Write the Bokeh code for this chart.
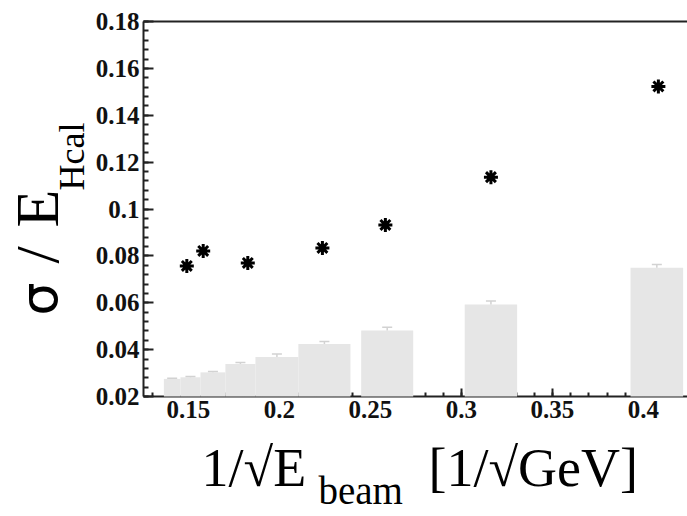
import numpy as np
from math import pi
from bokeh.plotting import figure
from bokeh.layouts import row, column
from bokeh.models import (Range1d, FixedTicker, LinearAxis, Label, Whisker,
                          ColumnDataSource, TeeHead)
from bokeh.embed import file_html
from bokeh.resources import INLINE

# ---- data ----
# measured points: 1/sqrt(E_beam) vs sigma/E_Hcal
inv_sqrt_e = [0.1491, 0.1581, 0.1826, 0.2236, 0.2582, 0.3162, 0.4082]
resolution = [0.0757, 0.0821, 0.0770, 0.0834, 0.0932, 0.1136, 0.1523]

# grey histogram (systematic band) bins
bin_left = [0.1365, 0.1456, 0.1566, 0.1703, 0.1868, 0.2104, 0.2449, 0.3018, 0.3929]
bin_right = [0.1456, 0.1566, 0.1703, 0.1868, 0.2104, 0.2390, 0.2735, 0.3306, 0.4218]
bin_value = [0.0275, 0.0282, 0.0303, 0.0339, 0.0369, 0.0424, 0.0482, 0.0593, 0.0749]
bin_error = [0.0003, 0.0003, 0.0004, 0.0006, 0.0012, 0.0011, 0.0014, 0.0014, 0.0014]

x_ticks = [0.15, 0.2, 0.25, 0.3, 0.35, 0.4]
x_tick_labels = ["0.15", "0.2", "0.25", "0.3", "0.35", "0.4"]
y_ticks = [0.02, 0.04, 0.06, 0.08, 0.1, 0.12, 0.14, 0.16, 0.18]
y_tick_labels = ["0.02", "0.04", "0.06", "0.08", "0.1", "0.12", "0.14", "0.16", "0.18"]

x_lim = (0.1253, 0.4242)
y_lim = (0.02, 0.18)

# ---- main figure ----
p = figure(width=597, height=435, output_backend="svg", toolbar_location=None,
           x_range=Range1d(*x_lim), y_range=Range1d(*y_lim),
           min_border_left=53, min_border_right=0, min_border_top=21,
           min_border_bottom=39)
p.grid.visible = False
p.outline_line_color = None
p.background_fill_color = "white"
p.border_fill_color = "white"

axis_color = "#222222"
tick_font = "Liberation Serif"

x_minor = [round(v, 3) for v in np.arange(0.13, 0.43, 0.01)]
y_minor = [round(v, 3) for v in np.arange(0.02, 0.1801, 0.004)]

xa = p.xaxis[0]
xa.ticker = FixedTicker(ticks=x_ticks, minor_ticks=x_minor)
xa.major_label_overrides = dict(zip(x_ticks, x_tick_labels))
ya = p.yaxis[0]
ya.ticker = FixedTicker(ticks=y_ticks, minor_ticks=y_minor)
ya.major_label_overrides = dict(zip(y_ticks, y_tick_labels))

for ax, mj, mn in ((xa, 8, 4), (ya, 10, 5)):
    ax.axis_line_color = axis_color
    ax.axis_line_width = 2
    ax.major_tick_line_color = axis_color
    ax.minor_tick_line_color = axis_color
    ax.major_tick_line_width = 2
    ax.minor_tick_line_width = 2
    ax.major_tick_in = mj
    ax.major_tick_out = 0
    ax.minor_tick_in = mn
    ax.minor_tick_out = 0
    ax.major_label_text_font = tick_font
    ax.major_label_text_font_style = "bold"
    ax.major_label_text_font_size = "25px"
    ax.major_label_text_color = "#111111"
    ax.major_label_standoff = 4

top_axis = LinearAxis(ticker=FixedTicker(ticks=[]), major_label_text_font_size="0px",
                      major_tick_in=0, major_tick_out=0, minor_tick_in=0, minor_tick_out=0,
                      axis_line_color=axis_color, axis_line_width=2)
p.add_layout(top_axis, "above")

# grey bars
bars = ColumnDataSource(dict(
    left=bin_left, right=bin_right, top=bin_value,
    upper=[v + e for v, e in zip(bin_value, bin_error)],
    center=[(a + b) / 2 for a, b in zip(bin_left, bin_right)],
))
p.quad(left="left", right="right", top="top", bottom=y_lim[0], source=bars,
       fill_color="#e6e6e6", line_color=None, level="annotation")
p.add_layout(Whisker(base="center", upper="upper", lower="top", source=bars,
                     line_color="#d2d2d2", line_width=1.5,
                     upper_head=TeeHead(size=10, line_color="#d2d2d2", line_width=1.5),
                     lower_head=None, level="overlay"))

# points
p.scatter(inv_sqrt_e, resolution, marker="asterisk", size=14, line_width=3,
          line_color="black")


# ---- text panels for axis titles ----
def blank(w, h):
    f = figure(width=w, height=h, output_backend="svg", toolbar_location=None,
               x_axis_type=None, y_axis_type=None, min_border=0,
               x_range=Range1d(0, 1), y_range=Range1d(0, 1))
    f.grid.visible = False
    f.outline_line_color = None
    f.background_fill_color = "white"
    f.border_fill_color = "white"
    return f


def lab(f, text, x, y, size, font="Liberation Serif", angle=0.0):
    f.add_layout(Label(x=x, y=y, x_units="screen", y_units="screen", text=text,
                       angle=angle, text_font=font, text_font_size=size,
                       text_align="left", text_baseline="alphabetic",
                       text_color="black"))


ylab = blank(90, 516)
lab(ylab, "\u03c3", 38, 201, "52px", font="DejaVu Sans", angle=pi / 2)
lab(ylab, "/", 36, 253, "62px", angle=pi / 2)
lab(ylab, "E", 36, 289, "62px", angle=pi / 2)
lab(ylab, "Hcal", 71, 326, "36px", angle=pi / 2)

xlab = blank(597, 81)
lab(xlab, "1/\u221aE", 58, 49, "54px")
lab(xlab, "beam", 175, 26, "39px")
lab(xlab, "[1/\u221aGeV]", 285, 49, "54px")

layout = row(ylab, column(p, xlab))

open("out.html", "w").write(file_html(layout, INLINE))
